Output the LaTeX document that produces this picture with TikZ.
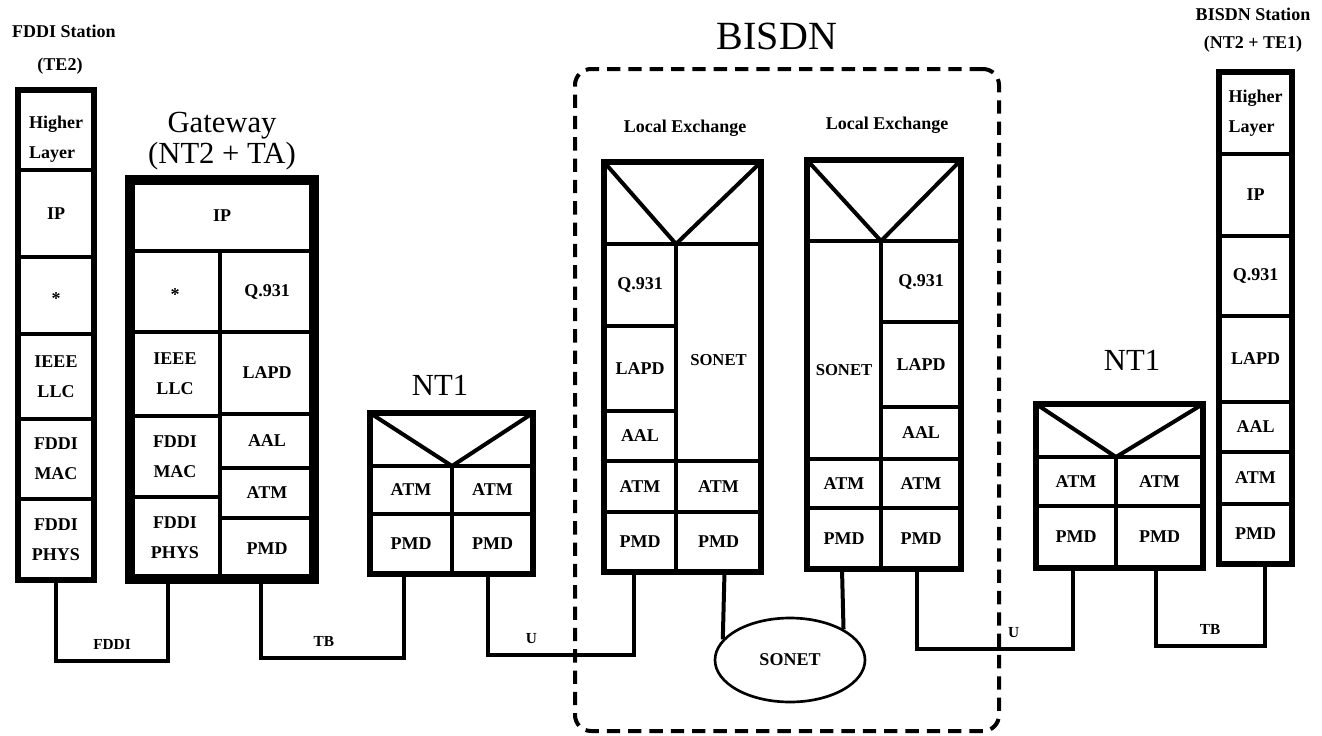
\documentclass[tikz,border=0pt]{standalone}
\usepackage{fontspec}
\setmainfont{Liberation Serif}
\usetikzlibrary{fit,shapes.geometric}
\DeclareRobustCommand{\midstar}{\raisebox{-0.3em}[0.4em][0pt]{*}}

\begin{document}
\begin{tikzpicture}[x=0.75pt, y=-0.75pt,
    cellbox/.style={draw, line width=3pt, inner sep=0pt, outer sep=0pt},
    lbl/.style={font=\fontsize{13.5}{22.5}\selectfont\bfseries, inner sep=0pt, align=center},
    cell/.style={cellbox, label={[lbl]center:#1}}, cell/.default={},
    lcell/.style={cellbox, label={[lbl, align=left]center:#1}},
    stackframe/.style={draw, line width=4pt, inner sep=0pt, outer sep=0pt},
    gwframe/.style={draw, line width=7.5pt, inner sep=0pt, outer sep=0pt},
    bisdnbox/.style={draw, line width=3pt, dash pattern=on 10pt off 6pt, rounded corners=12pt, inner sep=0pt},
    vee/.style={line width=3pt},
    wire/.style={line width=3pt},
    tag/.style={font=\fontsize{13.5}{16}\selectfont\bfseries, anchor=base, inner sep=0pt},
    bigtitle/.style={font=\fontsize{23}{27}\selectfont, anchor=base, inner sep=0pt},
    wtag/.style={font=\fontsize{11.5}{14}\selectfont\bfseries, inner sep=0pt, above=7pt}]

    \useasboundingbox (0,0) rectangle (1322,736);

    % Trạm FDDI (TE2)
    \node[tag] (fs-t1) at (64,37) {FDDI Station};
    \node[tag] (fs-t2) at (60,70) {(TE2)};
    \node[cellbox, label={[lbl, align=left, yshift=-7pt]center:Higher\\Layer}, fit={(18,90) (94,170)}] (fs-hl) {};
    \node[cell=IP, fit={(18,170) (94,257)}] (fs-ip) {};
    \node[cell=\midstar, fit={(18,257) (94,334)}] (fs-star) {};
    \node[cell={IEEE\\LLC}, fit={(18,334) (94,419)}] (fs-llc) {};
    \node[cell={FDDI\\MAC}, fit={(18,419) (94,499)}] (fs-mac) {};
    \node[cell={FDDI\\PHYS}, fit={(18,499) (94,580)}] (fs-phys) {};
    \node[stackframe, fit={(18,90) (94,580)}] (fs) {};

    % Gateway (NT2 + TA)
    \node[bigtitle] (gw-t1) at (222,132) {Gateway};
    \node[bigtitle] (gw-t2) at (222,163) {(NT2 + TA)};
    \node[cell=IP, fit={(130,180) (314,251)}] (gw-ip) {};
    \node[cell=\midstar, fit={(130,251) (220,332)}] (gw-star) {};
    \node[cell={IEEE\\LLC}, fit={(130,332) (220,416)}] (gw-llc) {};
    \node[cell={FDDI\\MAC}, fit={(130,416) (220,497)}] (gw-mac) {};
    \node[cell={FDDI\\PHYS}, fit={(130,497) (220,579)}] (gw-phys) {};
    \node[cell=Q.931, fit={(220,251) (314,332)}] (gw-q) {};
    \node[cell=LAPD, fit={(220,332) (314,414)}] (gw-lapd) {};
    \node[cell=AAL, fit={(220,414) (314,468)}] (gw-aal) {};
    \node[cell=ATM, fit={(220,468) (314,518)}] (gw-atm) {};
    \node[cell=PMD, fit={(220,518) (314,579)}] (gw-pmd) {};
    \node[gwframe, fit={(130,180) (314,579)}] (gw) {};

    % NT1 bên trái
    \node[bigtitle] (na-t) at (440,395) {NT1};
    \node[cell, fit={(370,413) (533,466)}] (na-top) {};
    \node[cell=ATM, fit={(370,466) (452,514)}] (na-latm) {};
    \node[cell=ATM, fit={(452,466) (533,514)}] (na-ratm) {};
    \node[cell=PMD, fit={(370,514) (452,574)}] (na-lpmd) {};
    \node[cell=PMD, fit={(452,514) (533,574)}] (na-rpmd) {};
    \node[stackframe, fit={(370,413) (533,574)}] (na) {};
    \draw[vee] (na-top.north west) -- (na-latm.north east) -- (na-top.north east);

    % Mạng BISDN
    \node[bisdnbox, fit={(575,69) (999,731)}] (bisdn) {};
    \node[font=\fontsize{30}{34}\selectfont, anchor=base, inner sep=0pt] (bisdn-t) at (777,49) {BISDN};

    % Tổng đài nội hạt thứ nhất
    \node[tag] (ea-t) at (685,132) {Local Exchange};
    \node[cell, fit={(604,162) (761,244)}] (ea-top) {};
    \node[cell=Q.931, fit={(604,244) (676,326)}] (ea-q) {};
    \node[cell=LAPD, fit={(604,326) (676,411)}] (ea-lapd) {};
    \node[cell=AAL, fit={(604,411) (676,461)}] (ea-aal) {};
    \node[cellbox, label={[lbl, font=\fontsize{12.5}{15}\selectfont\bfseries, yshift=-6pt]center:SONET}, fit={(676,244) (761,461)}] (ea-son) {};
    \node[cell=ATM, fit={(604,461) (676,512)}] (ea-latm) {};
    \node[cell=ATM, fit={(676,461) (761,512)}] (ea-ratm) {};
    \node[cell=PMD, fit={(604,512) (676,572)}] (ea-lpmd) {};
    \node[cell=PMD, fit={(676,512) (761,572)}] (ea-rpmd) {};
    \node[stackframe, fit={(604,162) (761,572)}] (ea) {};
    \draw[vee] (ea-top.north west) -- (ea-q.north east) -- (ea-top.north east);

    % Tổng đài nội hạt thứ hai
    \node[tag] (eb-t) at (887,129) {Local Exchange};
    \node[cell, fit={(807,160) (961,241)}] (eb-top) {};
    \node[cellbox, label={[lbl, font=\fontsize{12.5}{15}\selectfont\bfseries, yshift=-15pt]center:SONET}, fit={(807,241) (881,459)}] (eb-son) {};
    \node[cell=Q.931, fit={(881,241) (961,322)}] (eb-q) {};
    \node[cell=LAPD, fit={(881,322) (961,407)}] (eb-lapd) {};
    \node[cell=AAL, fit={(881,407) (961,459)}] (eb-aal) {};
    \node[cell=ATM, fit={(807,459) (881,508)}] (eb-latm) {};
    \node[cell=ATM, fit={(881,459) (961,508)}] (eb-ratm) {};
    \node[cell=PMD, fit={(807,508) (881,569)}] (eb-lpmd) {};
    \node[cell=PMD, fit={(881,508) (961,569)}] (eb-rpmd) {};
    \node[stackframe, fit={(807,160) (961,569)}] (eb) {};
    \draw[vee] (eb-top.north west) -- (eb-q.north west) -- (eb-top.north east);

    % Vòng SONET
    \node[draw, ellipse, line width=2pt, minimum width=112.5pt, minimum height=63pt, inner sep=0pt,
          font=\fontsize{13.5}{16}\selectfont\bfseries] (sonet) at (790,660) {SONET};

    % NT1 bên phải
    \node[bigtitle] (nb-t) at (1132,370) {NT1};
    \node[cell, fit={(1036,404) (1203,457)}] (nb-top) {};
    \node[cell=ATM, fit={(1036,457) (1116,506)}] (nb-latm) {};
    \node[cell=ATM, fit={(1116,457) (1203,506)}] (nb-ratm) {};
    \node[cell=PMD, fit={(1036,506) (1116,568)}] (nb-lpmd) {};
    \node[cell=PMD, fit={(1116,506) (1203,568)}] (nb-rpmd) {};
    \node[stackframe, fit={(1036,404) (1203,568)}] (nb) {};
    \draw[vee] (nb-top.north west) -- (nb-latm.north east) -- (nb-top.north east);

    % Trạm BISDN (NT2 + TE1)
    \node[tag] (bs-t1) at (1253,20) {BISDN Station};
    \node[tag] (bs-t2) at (1253,48) {(NT2 + TE1)};
    \node[lcell={Higher\\Layer}, fit={(1219,72) (1292,154)}] (bs-hl) {};
    \node[cell=IP, fit={(1219,154) (1292,236)}] (bs-ip) {};
    \node[cell=Q.931, fit={(1219,236) (1292,316)}] (bs-q) {};
    \node[cell=LAPD, fit={(1219,316) (1292,402)}] (bs-lapd) {};
    \node[cell=AAL, fit={(1219,402) (1292,452)}] (bs-aal) {};
    \node[cell=ATM, fit={(1219,452) (1292,504)}] (bs-atm) {};
    \node[cell=PMD, fit={(1219,504) (1292,564)}] (bs-pmd) {};
    \node[stackframe, fit={(1219,72) (1292,564)}] (bs) {};

    % Các đường nối
    \draw[wire] (fs-phys.south) -- ++(0,81) -| ([shift={(-7,0)}]gw-phys.south) node[wtag, pos=0.25] {FDDI};
    \draw[wire] ([shift={(-6,0)}]gw-pmd.south) -- ++(0,79) -| ([shift={(-7,0)}]na-lpmd.south) node[wtag, pos=0.22] {TB};
    \draw[wire] ([shift={(-5,0)}]na-rpmd.south) -- ++(0,81) -| ([shift={(-6,0)}]ea-lpmd.south) node[wtag, pos=0.15] {U};
    \draw[wire] ([shift={(6,0)}]ea-rpmd.south) -- (sonet.163);
    \draw[wire] ([shift={(-2,0)}]eb-lpmd.south) -- (sonet.30);
    \draw[wire] ([shift={(-4,0)}]eb-rpmd.south) -- ++(0,80) -| ([shift={(-3,0)}]nb-lpmd.south) node[wtag, pos=0.31] {U};
    \draw[wire] ([shift={(-4,0)}]nb-rpmd.south) -- ++(0,78) -| ([shift={(9,0)}]bs-pmd.south) node[wtag, pos=0.25] {TB};
\end{tikzpicture}
\end{document}
